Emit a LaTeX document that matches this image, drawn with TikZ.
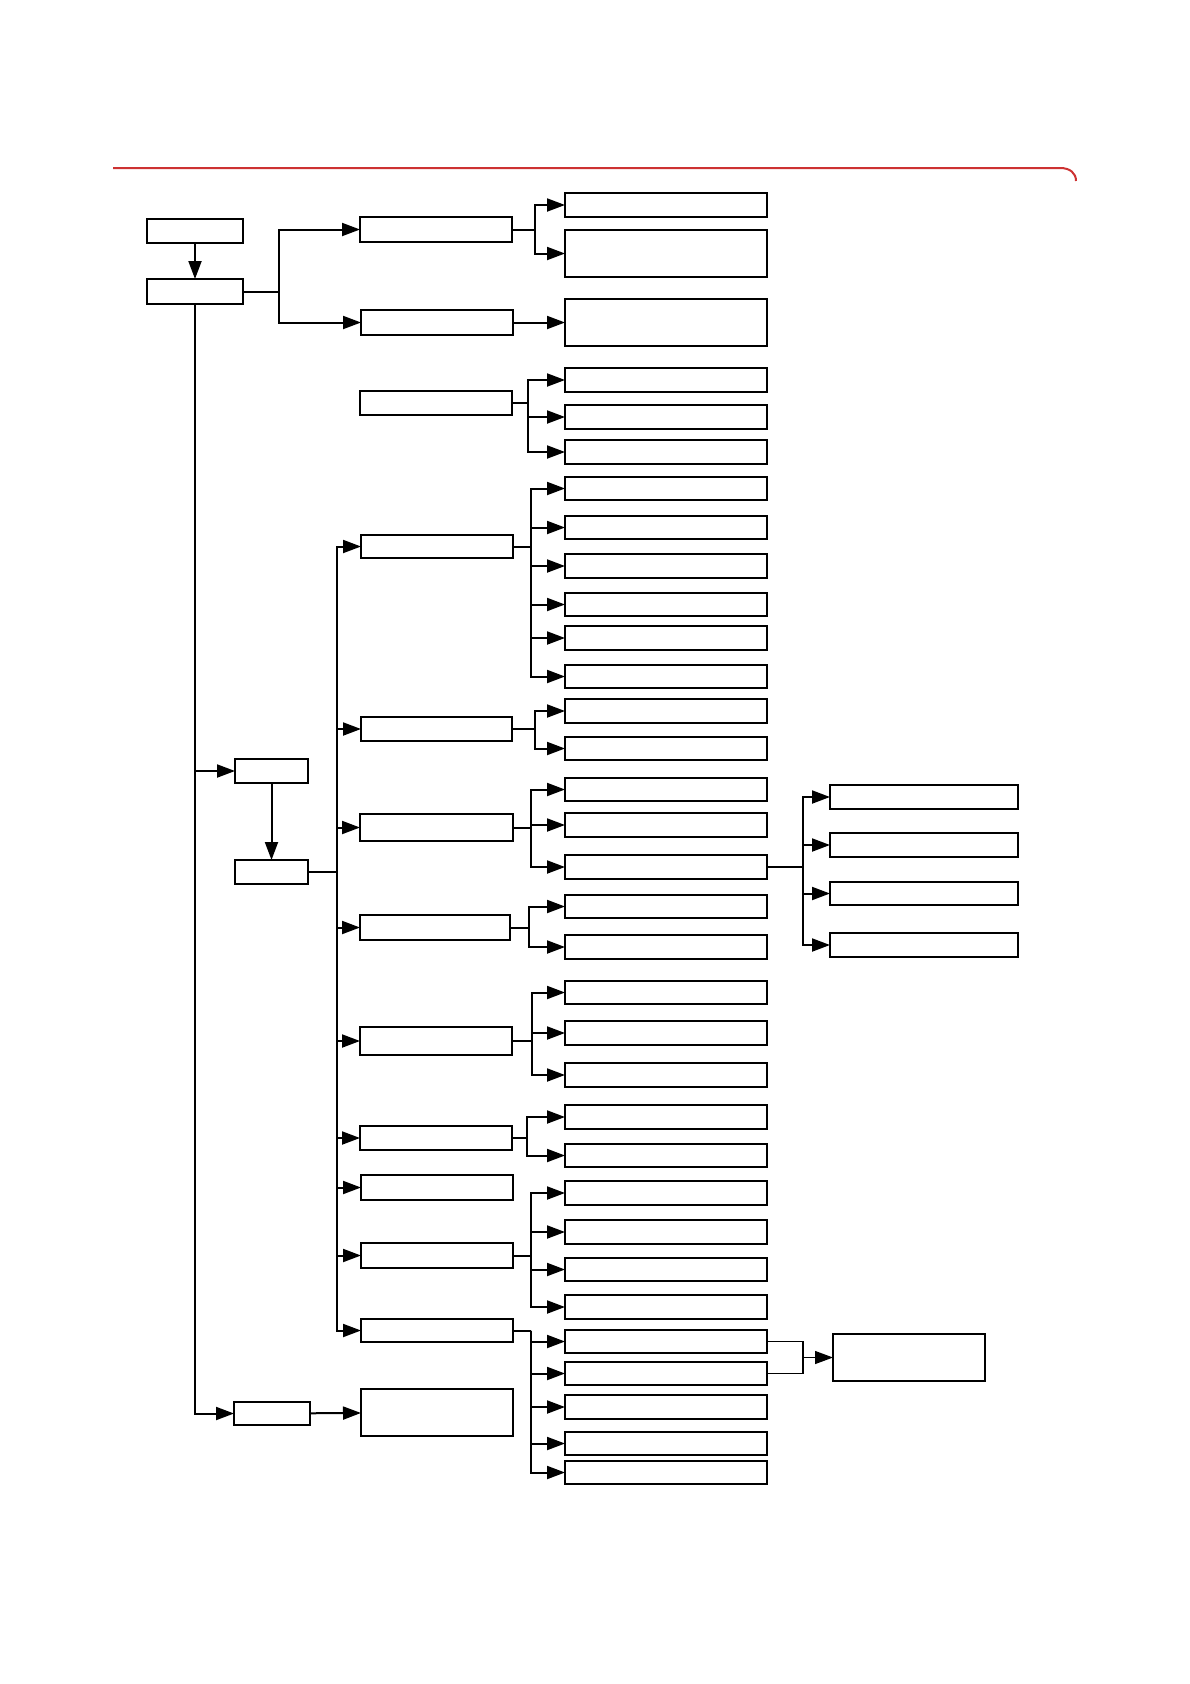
\documentclass[tikz,border=0pt]{standalone}
\usetikzlibrary{arrows.meta}
\definecolor{topred}{RGB}{205,50,50}
\tikzset{
  boxst/.style={draw=black, line width=2pt, fill=white, inner sep=0pt, outer sep=0pt},
  thickbox/.style={line width=2.8pt},
  arr/.style={-{Triangle[length=18pt,width=13pt]}, line width=2pt},
  link/.style={line width=2pt},
  thinarr/.style={-{Triangle[length=18pt,width=13pt]}, line width=1.3pt},
  thinlink/.style={line width=1.3pt},
}
\newcommand\mybox[6][]{\node[boxst,#1,minimum width={#5-#3},minimum height={#6-#4}] (#2) at ({(#3+#5)/2},{(#4+#6)/2}) {};}
\begin{document}
\begin{tikzpicture}[x=1pt,y=-1pt]
\useasboundingbox (0,0) rectangle (1190,1684);
% header rule
\draw[topred, line width=2pt] (113,168) -- (1060,168) .. controls (1070,168) and (1076,173) .. (1076,181);
% left column
\mybox{A}{147}{219}{243}{243}
\mybox{B}{147}{279}{243}{304}
\mybox{E}{235}{759}{308}{783}
\mybox{F}{235}{860}{308}{884}
\mybox{G}{234}{1402}{310}{1425}
% C column
\mybox{C1}{360}{217}{512}{242}
\mybox{C2}{361}{310}{513}{335}
\mybox[thickbox]{C3}{360}{391}{512}{415}
\mybox{C4}{361}{535}{513}{558}
\mybox{C5}{361}{717}{512}{741}
\mybox[thickbox]{C6}{360}{814}{513}{841}
\mybox[thickbox]{C7}{360}{915}{510}{940}
\mybox{C8}{360}{1027}{512}{1055}
\mybox{C9}{360}{1126}{512}{1150}
\mybox{C10}{361}{1175}{513}{1200}
\mybox{C11}{361}{1243}{513}{1268}
\mybox{C12}{361}{1319}{513}{1342}
\mybox{C13}{361}{1389}{513}{1436}
% D column
\foreach \n/\ya/\yb in {1/193/217,2/230/277,3/299/346,4/368/392,5/405/429,6/440/464,7/477/500,8/516/539,9/554/578,10/593/616,11/626/650,12/665/688,13/699/723,14/737/760,15/778/801,16/813/837,17/855/879,18/895/918,19/935/959,20/981/1004,21/1021/1045,22/1063/1087,23/1105/1129,24/1144/1167,25/1181/1205,26/1220/1244,27/1258/1281,28/1295/1319,29/1330/1353,30/1362/1385,31/1395/1419,32/1432/1455,33/1461/1484}
  {\mybox{D\n}{565}{\ya}{767}{\yb}}
% R column
\mybox{R1}{830}{785}{1018}{809}
\mybox[thickbox]{R2}{830}{833}{1018}{857}
\mybox{R3}{830}{882}{1018}{905}
\mybox{R4}{830}{933}{1018}{957}
\mybox{R5}{833}{1334}{985}{1381}
% split coordinates
\coordinate (sB) at (279,0);
\coordinate (sF) at (337,0);
\coordinate (s1) at (535,0);
\coordinate (s3) at (528,0);
\coordinate (s4) at (531,0);
\coordinate (s5) at (535,0);
\coordinate (s6) at (531,0);
\coordinate (s7) at (529,0);
\coordinate (s8) at (532,0);
\coordinate (s9) at (527,0);
\coordinate (s11) at (531,0);
\coordinate (s12) at (531,0);
\coordinate (sR) at (803,0);
% main connectors
\draw[arr] (A) -- (B);
\draw[link] (B.east) -- (B.east -| sB);
\draw[arr] (B.east -| sB) |- (C1.west);
\draw[arr] (B.east -| sB) |- (C2.west);
\draw[arr] (B.south) |- (E.west);
\draw[arr] (B.south) |- (G.west);
\draw[arr] (E) -- (F);
\draw[arr] (G) -- (C13);
\draw[link] (F.east) -- (F.east -| sF);
\foreach \c in {C4,C5,C6,C7,C8,C9,C10,C11,C12}
  {\draw[arr] (F.east -| sF) |- (\c.west);}
% C to D
\draw[link] (C1.east) -- (C1.east -| s1);
\foreach \d in {D1,D2} {\draw[arr] (C1.east -| s1) |- (\d.west);}
\draw[arr] (C2) -- (D3);
\draw[link] (C3.east) -- (C3.east -| s3);
\foreach \d in {D4,D5,D6} {\draw[arr] (C3.east -| s3) |- (\d.west);}
\draw[link] (C4.east) -- (C4.east -| s4);
\foreach \d in {D7,D8,D9,D10,D11,D12} {\draw[arr] (C4.east -| s4) |- (\d.west);}
\draw[link] (C5.east) -- (C5.east -| s5);
\foreach \d in {D13,D14} {\draw[arr] (C5.east -| s5) |- (\d.west);}
\draw[link] (C6.east) -- (C6.east -| s6);
\foreach \d in {D15,D16,D17} {\draw[arr] (C6.east -| s6) |- (\d.west);}
\draw[link] (C7.east) -- (C7.east -| s7);
\foreach \d in {D18,D19} {\draw[arr] (C7.east -| s7) |- (\d.west);}
\draw[link] (C8.east) -- (C8.east -| s8);
\foreach \d in {D20,D21,D22} {\draw[arr] (C8.east -| s8) |- (\d.west);}
\draw[thinlink] (C9.east) -- (C9.east -| s9);
\foreach \d in {D23,D24} {\draw[arr] (C9.east -| s9) |- (\d.west);}
\draw[link] (C11.east) -- (C11.east -| s11);
\foreach \d in {D25,D26,D27,D28} {\draw[arr] (C11.east -| s11) |- (\d.west);}
\draw[link] (C12.east) -- (C12.east -| s12);
\foreach \d in {D29,D30,D31,D32,D33} {\draw[arr] (C12.east -| s12) |- (\d.west);}
% D to R
\draw[link] (D17.east) -- (D17.east -| sR);
\foreach \r in {R1,R2,R3,R4} {\draw[arr] (D17.east -| sR) |- (\r.west);}
\draw[thinlink] (D29.east) -| (R5.west -| sR) |- (D30.east);
\draw[thinarr] (R5.west -| sR) -- (R5.west);
\end{tikzpicture}
\end{document}
